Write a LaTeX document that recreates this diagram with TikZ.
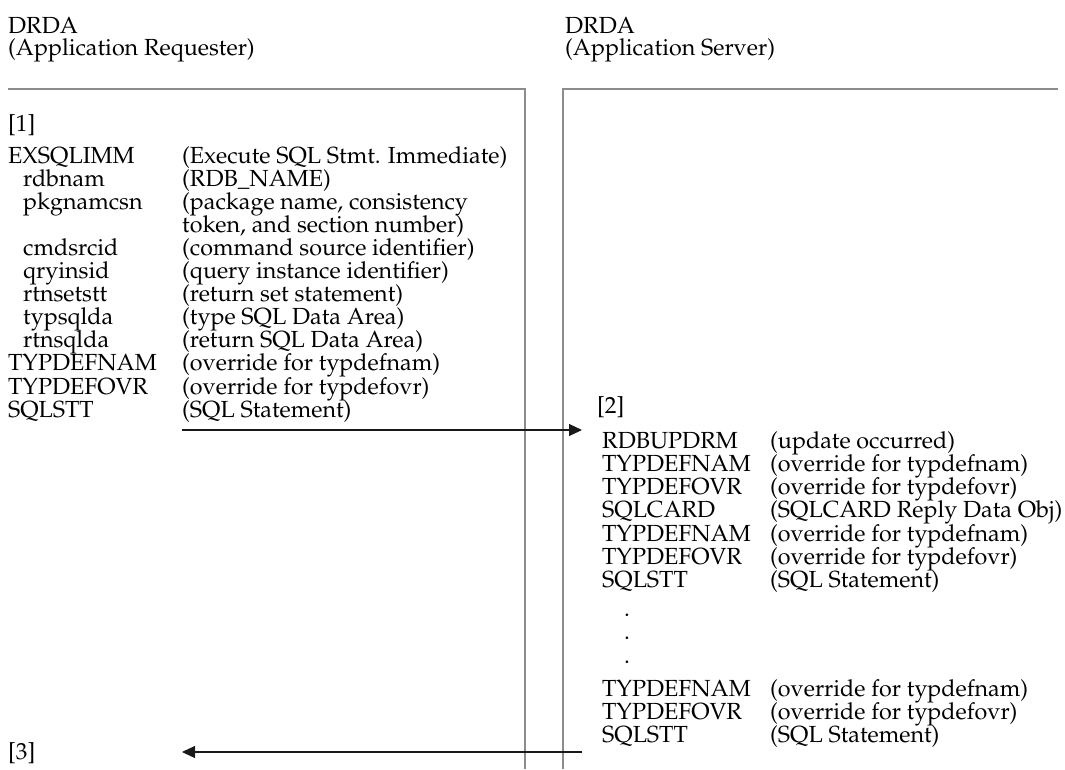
\documentclass[tikz,border=0pt]{standalone}
\usepackage[T1]{fontenc}
\usepackage{mathpazo}
\usetikzlibrary{arrows.meta}

\tikzset{
  txt/.style={anchor=base west, inner sep=0pt, font=\fontsize{23.3}{23}\selectfont},
  frame/.style={draw=black!45, line width=1.4pt},
  flow/.style={draw=black!90, line width=1.2pt, -{Triangle[length=13pt,width=12pt]}},
}

\begin{document}
\begin{tikzpicture}[x=1pt,y=-1pt]
  \useasboundingbox (0,0) rectangle (1065,769);
  \def\rowstep{23.1}

  % the two partners
  \node[txt] (reqhead) at (8,33) {DRDA};
  \node[txt] (reqname) at (8,55) {(Application Requester)};
  \node[txt] (srvhead) at (565,33) {DRDA};
  \node[txt] (srvname) at (565,55) {(Application Server)};

  \draw[frame] (8,89) -- (525,89) -- (525,769);
  \draw[frame] (563,769) -- (563,89) -- (1058,89);

  % requester side
  \node[txt] (step1) at (8,131) {[1]};
  \foreach \i/\name/\ind/\desc in {
      0/EXSQLIMM/0/{(Execute SQL Stmt. Immediate)},
      1/rdbnam/15/{(RDB\_NAME)},
      2/pkgnamcsn/15/{(package name, consistency},
      3/{}/15/{token, and section number)},
      4/cmdsrcid/15/{(command source identifier)},
      5/qryinsid/15/{(query instance identifier)},
      6/rtnsetstt/15/{(return set statement)},
      7/typsqlda/15/{(type SQL Data Area)},
      8/rtnsqlda/15/{(return SQL Data Area)},
      9/TYPDEFNAM/0/{(override for typdefnam)},
      10/TYPDEFOVR/0/{(override for typdefovr)},
      11/SQLSTT/0/{(SQL Statement)}} {
    \node[txt] (reqn-\i) at ({8+\ind},{163+\i*\rowstep}) {\name};
    \node[txt] (reqd-\i) at (182,{163+\i*\rowstep}) {\desc};
  }

  % server side
  \node[txt] (step2) at (597,413) {[2]};
  \foreach \i/\name/\desc in {
      0/RDBUPDRM/{(update occurred)},
      1/TYPDEFNAM/{(override for typdefnam)},
      2/TYPDEFOVR/{(override for typdefovr)},
      3/SQLCARD/{(SQLCARD Reply Data Obj)},
      4/TYPDEFNAM/{(override for typdefnam)},
      5/TYPDEFOVR/{(override for typdefovr)},
      6/SQLSTT/{(SQL Statement)}} {
    \node[txt] (srvn-\i) at (602,{448+\i*23.3}) {\name};
    \node[txt] (srvd-\i) at (770,{448+\i*23.3}) {\desc};
  }
  \foreach \j in {0,1,2}
    \node[txt] (gap-\j) at (624,{616+\j*23.5}) {.};
  \foreach \i/\name/\desc in {
      0/TYPDEFNAM/{(override for typdefnam)},
      1/TYPDEFOVR/{(override for typdefovr)},
      2/SQLSTT/{(SQL Statement)}} {
    \node[txt] (endn-\i) at (602,{696+\i*23.3}) {\name};
    \node[txt] (endd-\i) at (770,{696+\i*23.3}) {\desc};
  }

  \node[txt] (step3) at (8,759) {[3]};

  % request and reply
  \coordinate (sendfrom) at (182,430);
  \coordinate (sendto) at (582,430);
  \coordinate (replyfrom) at (582,752);
  \coordinate (replyto) at (182,752);
  \draw[flow] (sendfrom) -- (sendto);
  \draw[flow] (replyfrom) -- (replyto);
\end{tikzpicture}
\end{document}
